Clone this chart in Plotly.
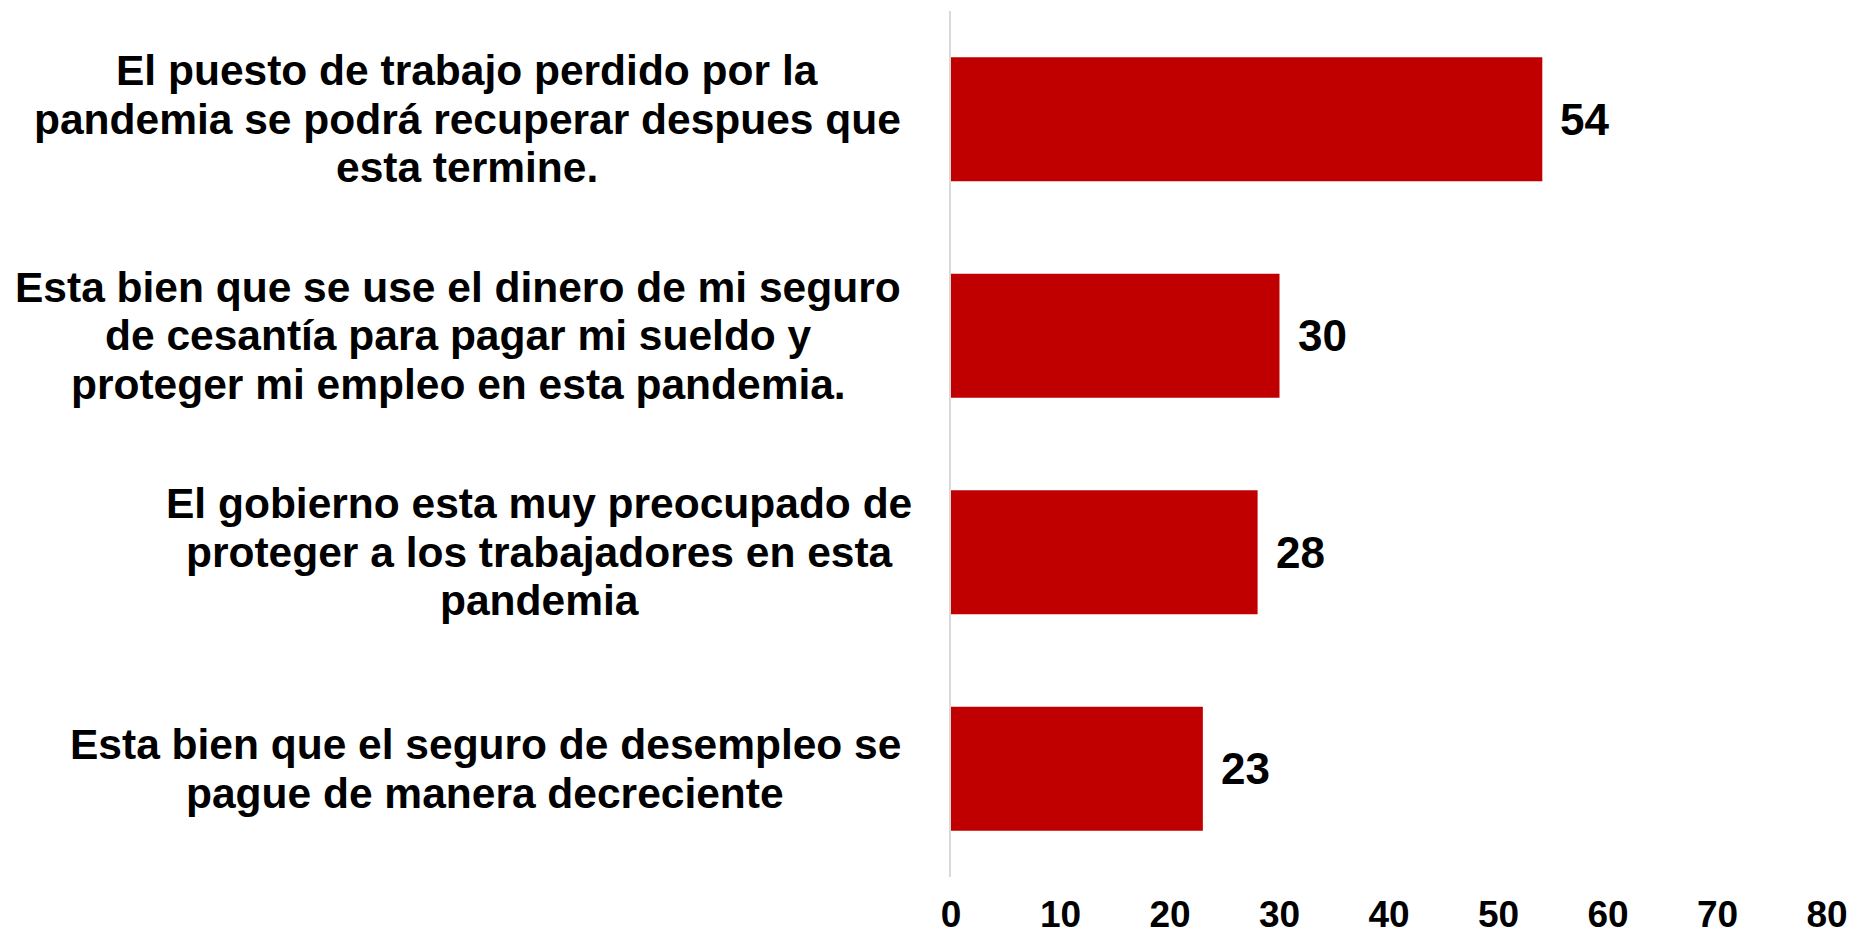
import plotly.graph_objects as go

# Survey statements (top to bottom) and share of agreement (%)
statements = [
    "El puesto de trabajo perdido por la<br>pandemia se podrá recuperar despues que<br>esta termine.",
    "Esta bien que se use el dinero de mi seguro<br>de cesantía para pagar mi sueldo y<br>proteger mi empleo en esta pandemia.",
    "El gobierno esta muy preocupado de<br>proteger a los trabajadores en esta<br>pandemia",
    "Esta bien que el seguro de desempleo se<br>pague de manera decreciente",
]
values = [54, 30, 28, 23]
x_ticks = [0, 10, 20, 30, 40, 50, 60, 70, 80]

FONT = "Liberation Sans, Arial, sans-serif"
BAR_COLOR = "#C00000"
LINE_GAP = 48.5                      # px between wrapped label lines
LABEL_CENTER_SHIFT = [-484, -493, -412, -466]  # px from the axis to each label's centre

fig = go.Figure(
    go.Bar(
        x=values,
        y=list(range(len(values))),
        orientation="h",
        marker=dict(color=BAR_COLOR, line=dict(width=0)),
        hoverinfo="skip",
    )
)

annotations = []
for i, (text, val) in enumerate(zip(statements, values)):
    lines = text.split("<br>")
    mid = (len(lines) - 1) / 2
    for j, line in enumerate(lines):
        annotations.append(dict(
            x=0, y=i, xref="x", yref="y",
            text=line, showarrow=False,
            xanchor="center", yanchor="middle",
            xshift=LABEL_CENTER_SHIFT[i],
            yshift=(mid - j) * LINE_GAP,
            font=dict(family=FONT, size=42.5, color="black", weight="bold"),
        ))
    annotations.append(dict(
        x=val, y=i, xref="x", yref="y",
        text=str(val), showarrow=False,
        xanchor="left", yanchor="middle", xshift=16,
        font=dict(family=FONT, size=44, color="black", weight="bold"),
    ))

fig.update_layout(
    width=1854, height=936,
    margin=dict(l=951, r=27, t=11, b=59, autoexpand=False),
    paper_bgcolor="white", plot_bgcolor="white",
    bargap=0.427,
    showlegend=False,
    annotations=annotations,
    xaxis=dict(
        range=[0, 80], tickvals=x_ticks, ticktext=[str(t) for t in x_ticks],
        showgrid=False, zeroline=False, showline=False, ticks="",
        tickfont=dict(family=FONT, size=37, color="black", weight="bold"),
        ticklabelstandoff=12, automargin=False, fixedrange=True,
    ),
    yaxis=dict(
        range=[len(values) - 0.5, -0.5],
        showticklabels=False, showgrid=False, zeroline=False,
        showline=True, linecolor="#D9D9D9", linewidth=2, ticks="",
        automargin=False, fixedrange=True,
    ),
)

fig.write_html("out.html")
